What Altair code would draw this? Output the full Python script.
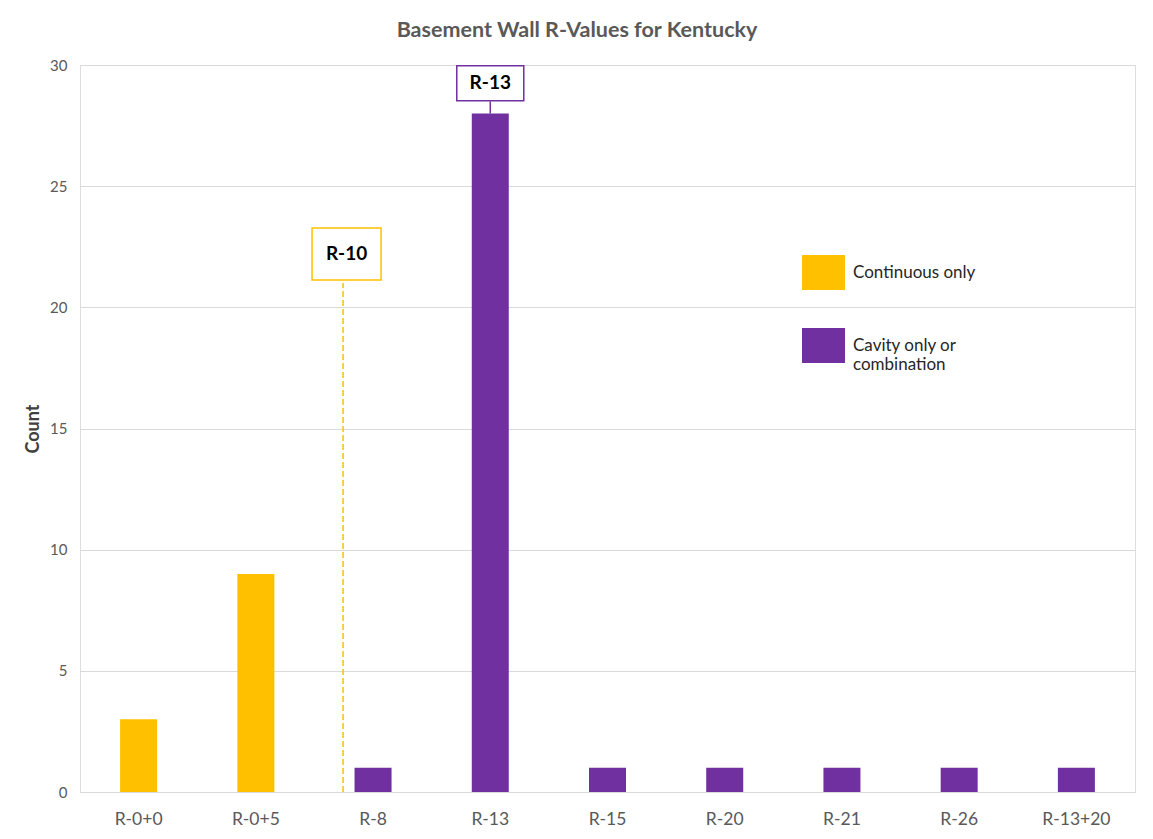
import altair as alt
import pandas as pd

title_text = ["Basement Wall R-Values for Kentucky"]
categories = ["R-0+0", "R-0+5", "R-8", "R-13", "R-15", "R-20", "R-21", "R-26", "R-13+20"]
counts = [3, 9, 1, 28, 1, 1, 1, 1, 1]
series = ["Continuous only", "Continuous only", "Cavity only or combination",
          "Cavity only or combination", "Cavity only or combination",
          "Cavity only or combination", "Cavity only or combination",
          "Cavity only or combination", "Cavity only or combination"]
series_names = ["Continuous only", "Cavity only or combination"]
series_colors = ["#FFC000", "#7030A0"]

# annotations
ann_labels = ["R-10", "R-13"]
ann_cat = ["R-8", "R-13"]
ann_box_y = [22.2, 29.25]
ann_line_y0 = [0, 28]
ann_line_y1 = [21, 28.5]
ann_colors = ["#FFC000", "#7030A0"]

FONT = "Lato"

df = pd.DataFrame({"cat": categories, "count": counts, "series": series})
ann = pd.DataFrame({"label": ann_labels, "cat": ann_cat, "ybox": ann_box_y,
                    "y0": ann_line_y0, "y1": ann_line_y1, "color": ann_colors})
tdf = pd.DataFrame({"t": title_text})

xenc = alt.X("cat:N", sort=categories, title=None,
             scale=alt.Scale(domain=categories, paddingInner=0, paddingOuter=0),
             axis=alt.Axis(labelAngle=0, labelFontSize=17.5, labelColor="#595959",
                           labelFont=FONT, labelPadding=18, ticks=False,
                           domainColor="#D9D9D9", grid=False))
yscale = alt.Scale(domain=[0, 30])

bars = alt.Chart(df).mark_bar(size=37).encode(
    x=xenc,
    y=alt.Y("count:Q", scale=yscale, title="Count",
            axis=alt.Axis(values=[0, 5, 10, 15, 20, 25, 30], labelFontSize=15,
                          labelColor="#595959", labelFont=FONT, labelPadding=13,
                          ticks=False, domain=False, gridColor="#D9D9D9",
                          titleFont=FONT, titleFontSize=18, titleColor="#404040",
                          titleFontWeight="bold", titleX=-38)),
    color=alt.Color("series:N", scale=alt.Scale(domain=series_names, range=series_colors),
                    legend=alt.Legend(title=None, orient="none", legendX=722, legendY=186,
                                      symbolType="M-1,-0.81H1V0.81H-1Z", symbolSize=1849,
                                      symbolStrokeWidth=0, labelFont=FONT, labelFontSize=17,
                                      labelColor="#262626", labelOffset=8, rowPadding=34,
                                      labelLimit=300, padding=0,
                                      labelExpr="datum.label == 'Cavity only or combination' ? ['Cavity only or', 'combination'] : datum.label")),
)

r10 = ann[ann["label"] == "R-10"]
r13 = ann[ann["label"] == "R-13"]

line10 = alt.Chart(r10).mark_rule(color="#FFC000", strokeDash=[6, 3], strokeWidth=1.5, xOffset=-30).encode(
    x=alt.X("cat:N", sort=categories), y=alt.Y("y0:Q", scale=yscale), y2="y1:Q")
box10 = alt.Chart(r10).mark_point(shape="M-1,-0.754H1V0.754H-1Z", size=4761, filled=True,
                                  fill="white", stroke="#FFC000", strokeWidth=1.5,
                                  opacity=1, xOffset=-26.5).encode(
    x=alt.X("cat:N", sort=categories), y=alt.Y("ybox:Q", scale=yscale))
text10 = alt.Chart(r10).mark_text(font=FONT, fontSize=19, fontWeight="bold", color="#000000",
                                  xOffset=-26.5).encode(
    x=alt.X("cat:N", sort=categories), y=alt.Y("ybox:Q", scale=yscale), text="label:N")

line13 = alt.Chart(r13).mark_rule(color="#7030A0", strokeWidth=1.5).encode(
    x=alt.X("cat:N", sort=categories), y=alt.Y("y0:Q", scale=yscale), y2="y1:Q")
box13 = alt.Chart(r13).mark_point(shape="M-1,-0.522H1V0.522H-1Z", size=4489, filled=True,
                                  fill="white", stroke="#7030A0", strokeWidth=1.5,
                                  opacity=1).encode(
    x=alt.X("cat:N", sort=categories), y=alt.Y("ybox:Q", scale=yscale))
text13 = alt.Chart(r13).mark_text(font=FONT, fontSize=19, fontWeight="bold", color="#000000").encode(
    x=alt.X("cat:N", sort=categories), y=alt.Y("ybox:Q", scale=yscale), text="label:N")

title = alt.Chart(tdf).mark_text(font=FONT, fontSize=21.5, fontWeight="bold", color="#595959").encode(
    x=alt.value(497), y=alt.value(-34), text="t:N")

chart = alt.layer(bars, line10, box10, text10, line13, box13, text13, title).properties(
    width=1055, height=727,
    autosize=alt.AutoSizeParams(type="none"),
    padding={"left": 72, "top": 57, "right": 10, "bottom": 39},
).configure_view(stroke=None).configure(background="white")

chart.save("out.html", embed_options={"renderer": "svg", "actions": False})
